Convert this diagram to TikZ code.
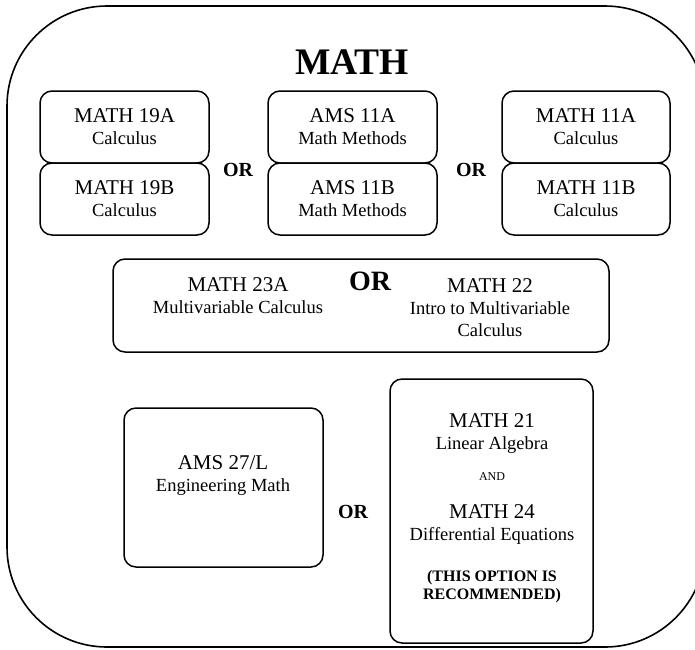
\documentclass[tikz,border=0pt]{standalone}
\usepackage{fontspec}
\setmainfont{Liberation Serif}
\newcommand{\ccode}[1]{{\fontsize{21}{22}\selectfont #1}}
\begin{document}
\begin{tikzpicture}[x=1pt,y=-1pt,
	course/.style={draw,line width=1.5pt,rounded corners=12pt,inner sep=0pt},
	label/.style={align=center,font=\fontsize{18.5}{22}\selectfont},
	ortext/.style={font=\bfseries\fontsize{20}{22}\selectfont}]
	\useasboundingbox (0,0) rectangle (695,649);
	\clip (0,0) rectangle (695,649);
	\draw[line width=1.6pt,rounded corners=100pt](7,6) rectangle (705,647);
	\node[font=\bfseries\fontsize{37.5}{40}\selectfont] (title) at (352,62) {MATH};

	% first year
	\node[course,label,minimum width=169,minimum height=72] (m19a) at (124.5,127) {\ccode{MATH 19A}\\Calculus};
	\node[course,label,minimum width=169,minimum height=72] (m19b) at (124.5,199) {\ccode{MATH 19B}\\Calculus};
	\node[ortext] (or1) at (238,170) {OR};
	\node[course,label,minimum width=169,minimum height=72] (a11a) at (352.5,127) {\ccode{AMS 11A}\\Math Methods};
	\node[course,label,minimum width=169,minimum height=72] (a11b) at (352.5,199) {\ccode{AMS 11B}\\Math Methods};
	\node[ortext] (or2) at (471,170) {OR};
	\node[course,label,minimum width=168,minimum height=72] (m11a) at (586,127) {\ccode{MATH 11A}\\Calculus};
	\node[course,label,minimum width=168,minimum height=72] (m11b) at (586,199) {\ccode{MATH 11B}\\Calculus};

	% multivariable
	\node[course,minimum width=496,minimum height=93] (multi) at (361,305.5) {};
	\node[label] (m23a) at (238,296) {\ccode{MATH 23A}\\Multivariable Calculus};
	\node[font=\bfseries\fontsize{28}{30}\selectfont] (or3) at (370,281) {OR};
	\node[label] (m22) at (490,308) {\ccode{MATH 22}\\Intro to Multivariable\\Calculus};

	% linear algebra and ode
	\node[course,minimum width=199,minimum height=159] (a27) at (223.5,487.5) {};
	\node[label] (a27t) at (223,476) {\ccode{AMS 27/L}\\Engineering Math};
	\node[ortext] (or4) at (353,512) {OR};
	\node[course,minimum width=203,minimum height=264] (m2124) at (491.5,511) {};
	\node[label] (m21) at (492,433.5) {\ccode{MATH 21}\\Linear Algebra};
	\node[font=\fontsize{12}{14}\selectfont] (and) at (492,477) {AND};
	\node[label] (m24) at (492,525) {\ccode{MATH 24}\\Differential Equations};
	\node[align=center,font=\bfseries\fontsize{16}{18}\selectfont] (rec) at (492,587) {(THIS OPTION IS\\RECOMMENDED)};
\end{tikzpicture}
\end{document}
